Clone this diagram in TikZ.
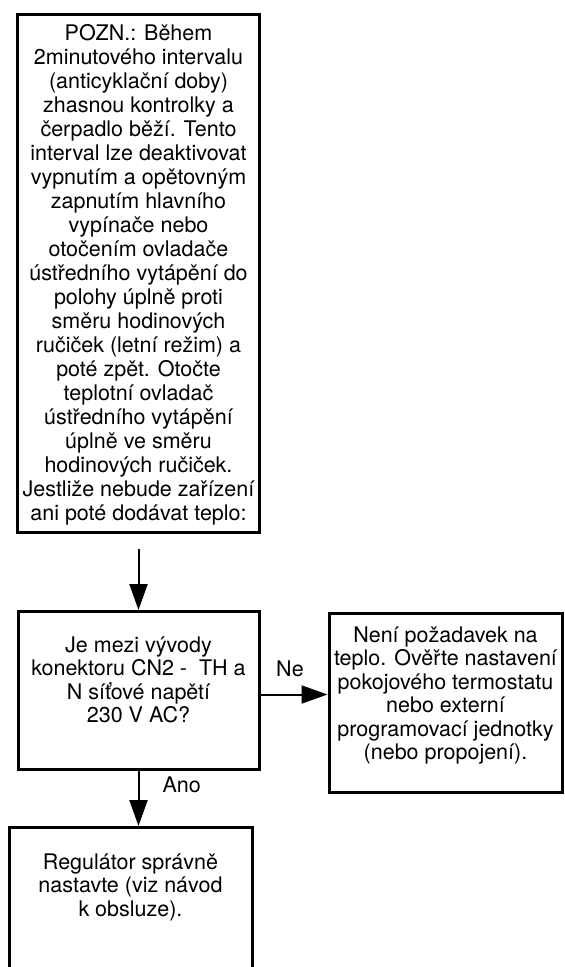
\documentclass[tikz,border=0pt]{standalone}
\usepackage{fontspec}
\setmainfont{TeX Gyre Heros}
\usetikzlibrary{arrows.meta}
\newcommand\fbtext[4]{\parbox[c][#1][t]{#2}{\centering\vspace*{#3}\strut #4}}
\tikzset{
  flowbox/.style={draw, line width=3pt, inner sep=0pt, font=\fontsize{21.5pt}{23.5pt}\selectfont},
  arr/.style={draw, line width=2pt, -{Triangle[length=26pt,width=18pt]}},
  lbl/.style={inner sep=0pt, font=\fontsize{21.5pt}{23.5pt}\selectfont}
}
\begin{document}
\begin{tikzpicture}[x=1pt,y=1pt]
\useasboundingbox (0,0) rectangle (565,-967);
\clip (0,0) rectangle (565,-967);
\node[flowbox, font=\fontsize{21.5pt}{24pt}\selectfont] (note) at (138.5,-273)
 {\fbtext{518pt}{242pt}{9.7pt}{POZN.: Během\\ 2minutového intervalu\\ (anticyklační doby)\\ zhasnou kontrolky a\\ čerpadlo běží. Tento\\ interval lze deaktivovat\\ vypnutím a opětovným\\ zapnutím hlavního\\ vypínače nebo\\ otočením ovladače\\ ústředního vytápění do\\ polohy úplně proti\\ směru hodinových\\ ručiček (letní režim) a\\ poté zpět. Otočte\\ teplotní ovladač\\ ústředního vytápění\\ úplně ve směru\\ hodinových ručiček.\\ Jestliže nebude zařízení\\ ani poté dodávat teplo:}};
\node[flowbox] (q) at (138.5,-690.5)
 {\fbtext{158pt}{241pt}{24.5pt}{Je mezi vývody\\ konektoru CN2 -~ TH a\\ N síťové napětí\\ 230 V AC?}};
\node[flowbox] (no) at (445.5,-702.5)
 {\fbtext{179pt}{233pt}{13pt}{Není požadavek na\\ teplo. Ověřte nastavení\\ pokojového termostatu\\ nebo externí\\ programovací jednotky\\ (nebo propojení).}};
\node[flowbox] (yes) at (130.5,-913.75)
 {\fbtext{172.5pt}{243pt}{25.5pt}{Regulátor správně\\ nastavte (viz návod\\ k obsluze).}};
\draw[arr] ([yshift=-15.5pt]note.south) -- (q.north);
\draw[arr] ([yshift=-4pt]q.east) -- ([yshift=-4pt]q.east -| no.west)
  node[lbl, pos=0.44, yshift=26pt] {Ne};
\draw[arr] (q.south) -- (q.south |- yes.north)
  node[lbl, pos=0.26, anchor=west, xshift=23pt] {Ano};
\end{tikzpicture}
\end{document}
